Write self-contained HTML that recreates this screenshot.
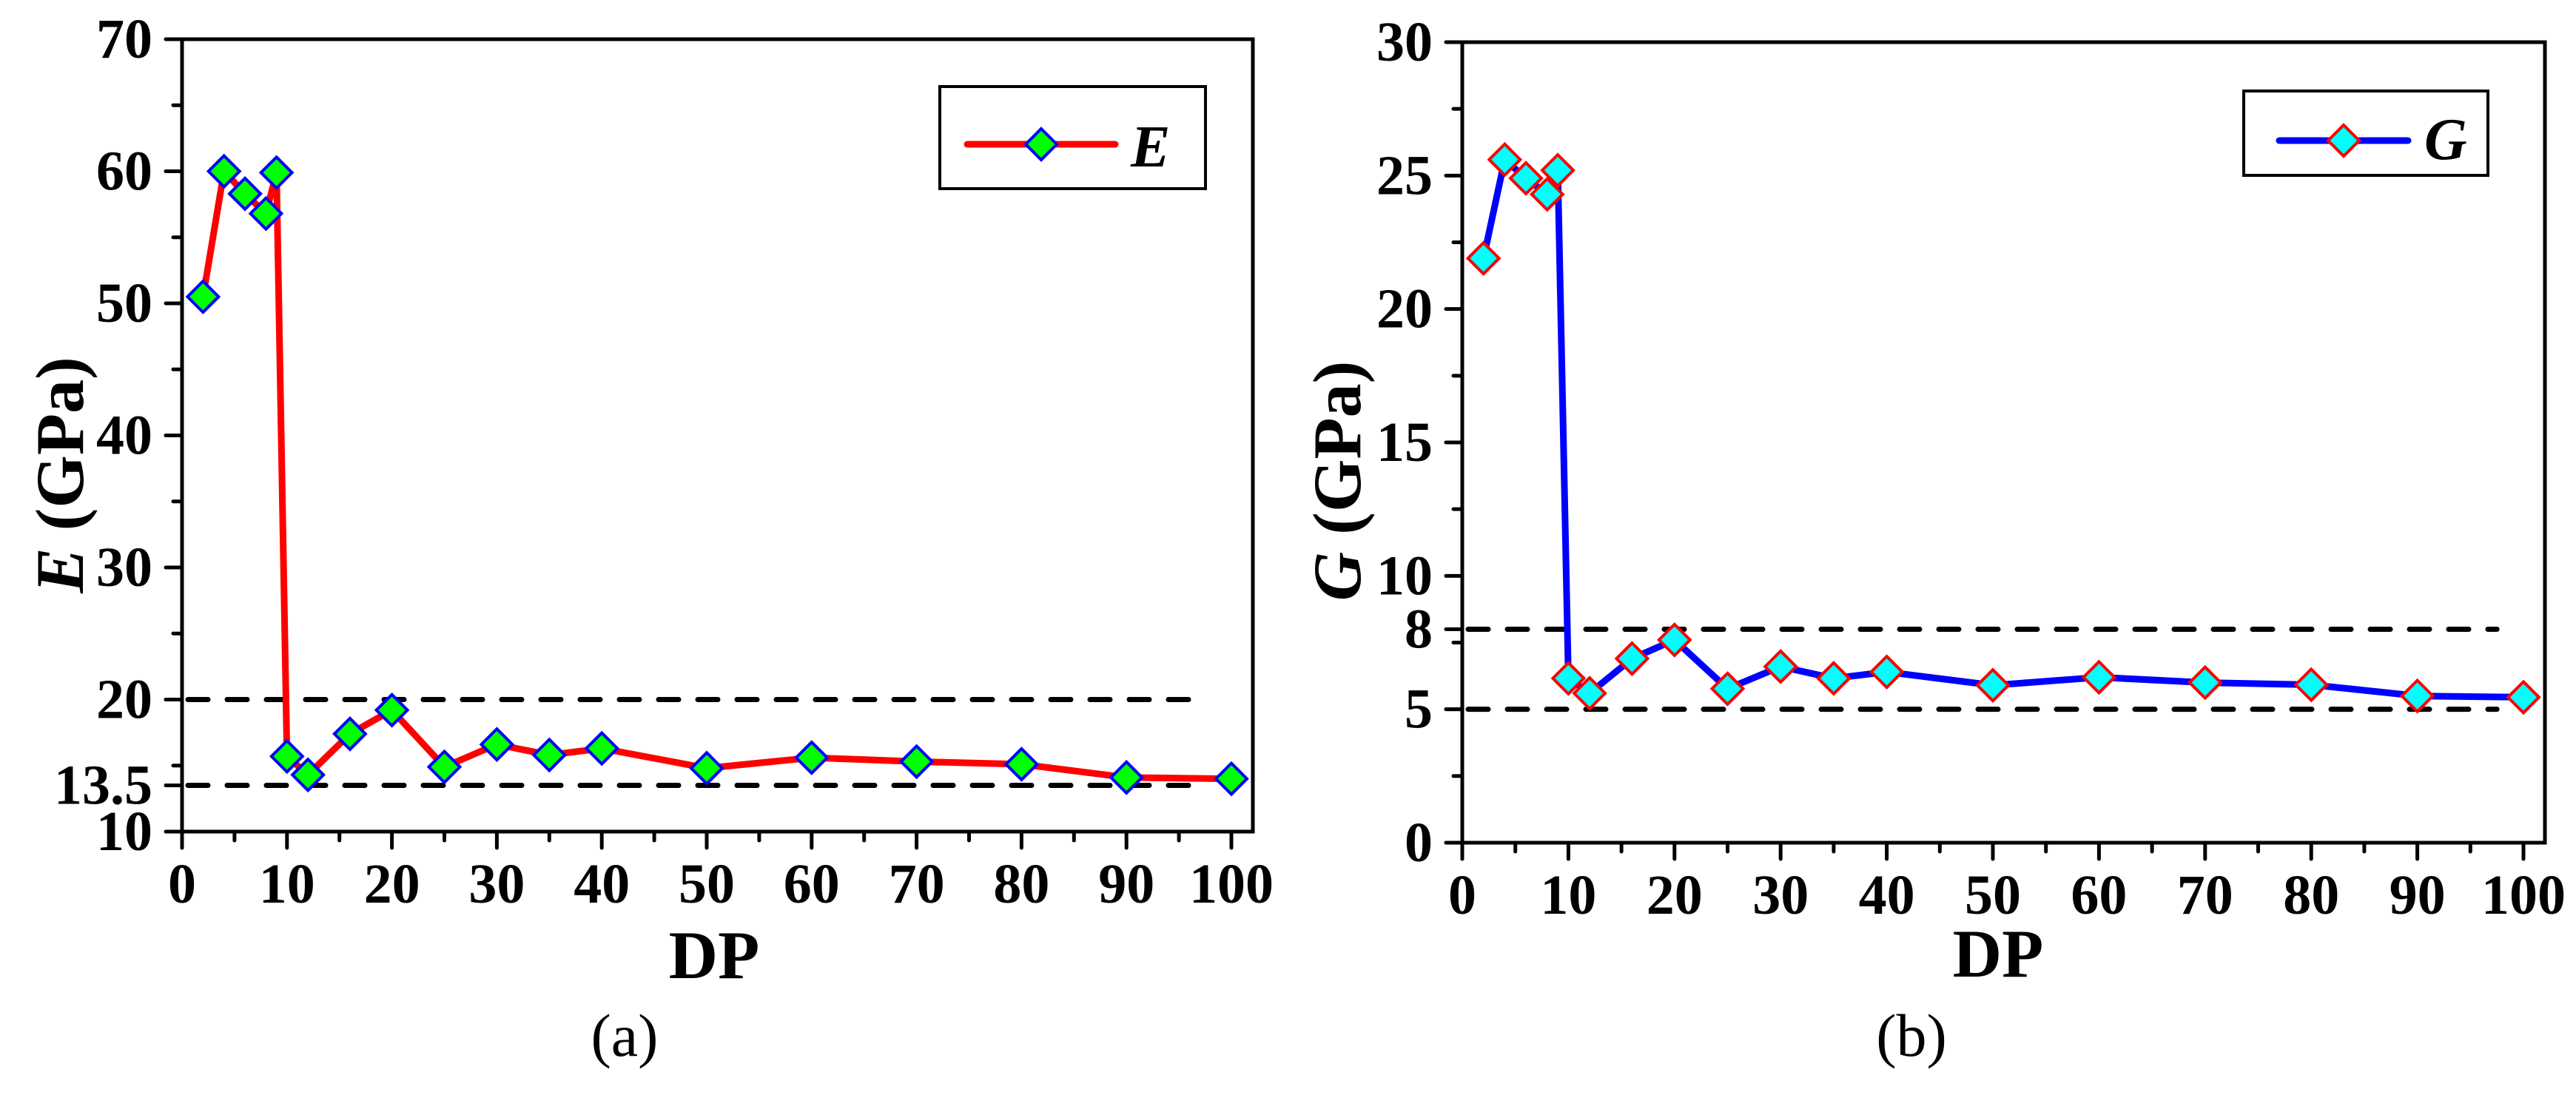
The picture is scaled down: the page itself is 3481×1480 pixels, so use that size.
<!DOCTYPE html>
<html><head><meta charset="utf-8"><style>
html,body{margin:0;padding:0;background:#fff;}
svg{display:block;}
svg text{font-family:"Liberation Serif","Times New Roman",serif;}
</style></head><body>
<svg id="fig" width="3481" height="1480" viewBox="0 0 3481 1480" xmlns="http://www.w3.org/2000/svg" font-family="Liberation Serif, serif"></svg>
<script>
const dpE = [2,4,6,8,9,10,12,16,20,25,30,35,40,50,60,70,80,90,100];
const valuesE = [50.5,60,58.3,56.8,59.9,15.7,14.3,17.4,19.2,14.9,16.6,15.8,16.3,14.8,15.6,15.3,15.1,14.1,14.0];
const dpG = [2,4,6,8,9,10,12,16,20,25,30,35,40,50,60,70,80,90,100];
const valuesG = [21.9,25.6,24.9,24.3,25.2,6.16,5.6,6.9,7.6,5.77,6.6,6.16,6.4,5.9,6.2,6.0,5.92,5.5,5.45];
const xTicks = [0,10,20,30,40,50,60,70,80,90,100];
const yLabelsE = [10,13.5,20,30,40,50,60,70];
const yLabelsG = [0,5,8,10,15,20,25,30];
const refLinesE = [20,13.5];
const refLinesG = [8,5];

const NS = 'http://www.w3.org/2000/svg';
const svg = document.getElementById('fig');
const FONT = 'Liberation Serif, Times New Roman, serif';
function el(tag, attrs, parent, text){
  const e = document.createElementNS(NS, tag);
  for (const k in attrs) e.setAttribute(k, attrs[k]);
  if (tag === 'text') e.setAttribute('font-family', FONT);
  if (text !== undefined) e.textContent = text;
  (parent||svg).appendChild(e);
  return e;
}

function panel(cfg){
  const g = el('g', {});
  
  
  const X = v => cfg.x0 + v * (cfg.x100 - cfg.x0) / 100;
  const Y = v => cfg.yb + (v - cfg.ymin) * (cfg.yt - cfg.yb) / (cfg.ymax - cfg.ymin);
  cfg.refs.forEach(r => {
    const l = el('line', {x1: cfg.x0 + 8, x2: X(97.5), y1: Y(r), y2: Y(r), stroke: '#000', 'stroke-width': 7, 'stroke-dasharray': '27 26', 'stroke-linecap': 'round'}, g);
    
    
  });
  const pts = cfg.xs.map((x, i) => X(x) + ',' + Y(cfg.ys[i])).join(' ');
  const pl = el('polyline', {points: pts, fill: 'none', stroke: cfg.lineColor, 'stroke-width': 9, 'stroke-linejoin': 'round'}, g);
  
  
  cfg.xs.forEach((x, i) => {
    const cx = X(x), cy = Y(cfg.ys[i]), r = 21;
    const m = el('polygon', {points: `${cx},${cy-r} ${cx+r},${cy} ${cx},${cy+r} ${cx-r},${cy}`, fill: cfg.fill, stroke: cfg.mStroke, 'stroke-width': 4}, g);
    
    
  });
  const fr = el('rect', {x: cfg.x0, y: cfg.yt, width: cfg.xr - cfg.x0, height: cfg.yb - cfg.yt, fill: 'none', stroke: '#000', 'stroke-width': 5}, g);
  
  
  for (let v = 0; v <= 100; v += 5) {
    const major = v % 10 === 0;
    el('line', {x1: X(v), x2: X(v), y1: cfg.yb, y2: cfg.yb + (major ? 22 : 12), stroke: '#000', 'stroke-width': 5, 'stroke-linecap': 'round'}, g);
  }
  xTicks.forEach(v => {
    const t = el('text', {x: X(v), y: cfg.xLabelBase, 'font-size': 76, 'font-weight': 'bold', 'text-anchor': 'middle'}, g, String(v));
    
    
  });
  for (let v = cfg.ymin; v <= cfg.ymax + 0.001; v += cfg.minorStep) {
    const major = Math.abs(v / cfg.majorStep - Math.round(v / cfg.majorStep)) < 1e-6;
    el('line', {x1: cfg.x0, x2: cfg.x0 - (major ? 22 : 12), y1: Y(v), y2: Y(v), stroke: '#000', 'stroke-width': 5, 'stroke-linecap': 'round'}, g);
  }
  cfg.refs.forEach(r => {
    el('line', {x1: cfg.x0, x2: cfg.x0 - 22, y1: Y(r), y2: Y(r), stroke: '#000', 'stroke-width': 5, 'stroke-linecap': 'round'}, g);
  });
  cfg.yLabels.forEach(v => {
    const t = el('text', {x: cfg.x0 - 40, y: Y(v) + 25, 'font-size': 76, 'font-weight': 'bold', 'text-anchor': 'end'}, g, String(v));
    
    
  });
  const xt = el('text', {x: cfg.dpX, y: cfg.dpY, 'font-size': 92, 'font-weight': 'bold', 'text-anchor': 'middle'}, g, 'DP');
  
  
  const yt = el('text', {x: 0, y: 0, 'font-size': 92, 'font-weight': 'bold', 'text-anchor': 'middle', transform: `translate(${cfg.ytX},${cfg.ytY}) rotate(-90)`}, g);
  
  
  el('tspan', {'font-style': 'italic'}, yt, cfg.series);
  el('tspan', {}, yt, ' (GPa)');
  const cap = el('text', {x: cfg.capX, y: 1427, 'font-size': 82, 'text-anchor': 'middle'}, g, cfg.caption);
  
  
  const lg = el('g', {}, g);
  
  
  const L = cfg.legend;
  el('rect', {x: L.x, y: L.y, width: L.w, height: L.h, fill: '#fff', stroke: '#000', 'stroke-width': 4}, lg);
  el('line', {x1: L.l1, x2: L.l2, y1: L.ly, y2: L.ly, stroke: cfg.lineColor, 'stroke-width': 9, 'stroke-linecap': 'round'}, lg);
  const mx = (L.l1 + L.l2) / 2, r = 21;
  el('polygon', {points: `${mx},${L.ly-r} ${mx+r},${L.ly} ${mx},${L.ly+r} ${mx-r},${L.ly}`, fill: cfg.fill, stroke: cfg.mStroke, 'stroke-width': 4}, lg);
  const lt = el('text', {x: L.tx, y: L.ty, 'font-size': 80, 'font-weight': 'bold', 'font-style': 'italic'}, lg, cfg.series);
  
  
}

panel({name: 'panel-a-E', series: 'E', xs: dpE, ys: valuesE, refs: refLinesE, yLabels: yLabelsE,
  x0: 246, x100: 1664, xr: 1693, yt: 53, yb: 1124, ymin: 10, ymax: 70, majorStep: 10, minorStep: 5,
  lineColor: '#ff0000', fill: '#00ff00', mStroke: '#0000ff',
  xLabelBase: 1220, dpX: 965, dpY: 1322, ytX: 112, ytY: 642, capX: 844, caption: '(a)',
  legend: {x: 1270, y: 117, w: 359, h: 138, l1: 1307, l2: 1507, ly: 195, tx: 1528, ty: 225}});

panel({name: 'panel-b-G', series: 'G', xs: dpG, ys: valuesG, refs: refLinesG, yLabels: yLabelsG,
  x0: 1976, x100: 3410, xr: 3439, yt: 57, yb: 1139, ymin: 0, ymax: 30, majorStep: 5, minorStep: 2.5,
  lineColor: '#0000ff', fill: '#00ffff', mStroke: '#ff0000',
  xLabelBase: 1235, dpX: 2700, dpY: 1320, ytX: 1838, ytY: 650, capX: 2583, caption: '(b)',
  legend: {x: 3032, y: 123, w: 330, h: 114, l1: 3080, l2: 3254, ly: 190, tx: 3276, ty: 215}});
</script>
</body></html>
